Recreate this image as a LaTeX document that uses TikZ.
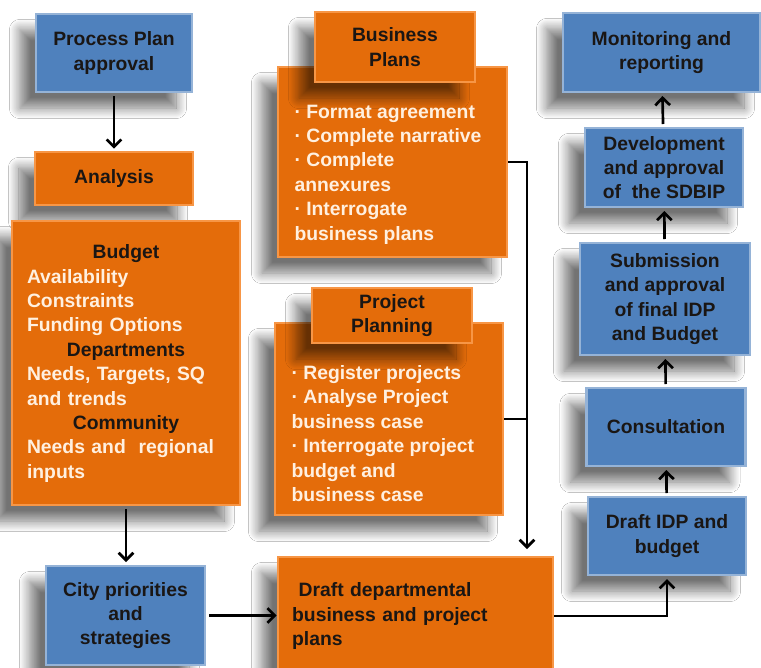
\documentclass[tikz,border=0pt]{standalone}
\usepackage{fontspec}
\setmainfont{Liberation Sans}
\usetikzlibrary{arrows.meta,shadows.blur}

\definecolor{boxblue}{RGB}{79,129,189}
\definecolor{edgeblue}{RGB}{149,179,215}
\definecolor{boxorange}{RGB}{228,108,10}
\definecolor{edgeorange}{RGB}{247,150,70}
\definecolor{darktxt}{RGB}{26,22,20}
\definecolor{lighttxt}{RGB}{255,240,224}

\newcommand{\boxfont}{\fontsize{14.5}{18.3}\selectfont\bfseries}

\tikzset{every picture/.style={line width=0.75pt}}
\tikzset{
  panel/.style={line width=2pt, inner sep=0pt, align=center, font=\boxfont, text=darktxt,
    blur shadow={shadow xshift=-12pt, shadow yshift=-12pt, shadow blur radius=8pt,
      shadow blur steps=16, shadow opacity=55}},
  bluebox/.style={panel, fill=boxblue, draw=edgeblue},
  orangebox/.style={panel, fill=boxorange, draw=edgeorange},
  bullets/.style={inner sep=0pt, align=left, anchor=west, text=lighttxt, font=\boxfont},
  conn/.style={line width=2pt},
  arr/.style={conn, -{Straight Barb[length=5.5pt,width=11pt]}},
}

\begin{document}
\begin{tikzpicture}[x=0.75pt,y=0.75pt,yscale=-1,xscale=1]
\fill[white] (0,0) rectangle (761,668);
\useasboundingbox (0,0) rectangle (761,668);

%Left column
\node[bluebox, minimum width=117pt, minimum height=58.5pt] (proc) at (114,53) {Process Plan\\approval};
\node[orangebox, minimum width=118.5pt, minimum height=39.75pt] (ana) at (114,178.5) {Analysis};
\node[orangebox, minimum width=171pt, minimum height=213pt] (budget) at (126,363) {};
\node[bullets, anchor=center, text width=148.5pt] (budgettxt) at (126,363.5) {%
{\centering\color{darktxt}Budget\par}
Availability\\Constraints\\Funding Options\par
{\centering\color{darktxt}Departments\par}
Needs, Targets, SQ\\and trends\par
{\centering\color{darktxt}Community\par}
Needs and~ regional\\inputs};
\node[bluebox, minimum width=119.25pt, minimum height=74.25pt] (city) at (125.5,615.5) {City priorities\\and\\strategies};

%Middle column
\node[orangebox, minimum width=171.75pt, minimum height=142.5pt] (bpbox) at (392.5,162) {};
\node[orangebox, minimum width=120pt, minimum height=52.5pt] (bptitle) at (395,47) {Business\\Plans};
\node[bullets] (bptxt) at (294,174.5) {· Format agreement\\· Complete narrative\\· Complete\\annexures\\· Interrogate\\business plans};

\node[orangebox, minimum width=171pt, minimum height=144pt] (ppbox) at (389,419) {};
\node[orangebox, minimum width=120pt, minimum height=41.25pt] (pptitle) at (392,315.5) {Project\\Planning};
\node[bullets] (pptxt) at (291,433.5) {· Register projects\\· Analyse Project\\business case\\· Interrogate project\\budget and\\business case};

\node[orangebox, minimum width=206.25pt, minimum height=88.5pt, align=left, text width=185pt, inner xsep=10.5pt] (ddp) at (415.5,616) {~Draft departmental\\business and project\\plans};

%Right column
\node[bluebox, minimum width=147.75pt, minimum height=59.25pt] (mon) at (661.5,52.5) {Monitoring and\\reporting};
\node[bluebox, minimum width=118.5pt, minimum height=59.25pt] (dev) at (664,167.5) {Development\\and approval\\of~ the SDBIP};
\node[bluebox, minimum width=127.5pt, minimum height=84pt] (sub) at (665,299) {Submission\\and approval\\of final IDP\\and Budget};
\node[bluebox, minimum width=119.25pt, minimum height=58.5pt] (cons) at (666,427) {Consultation};
\node[bluebox, minimum width=118.5pt, minimum height=58.5pt] (dib) at (667,536) {Draft IDP and\\budget};

%Connectors
\coordinate (jn) at (527,0);
\draw[arr, shorten <=2pt, shorten >=1.5pt] (proc) -- (ana);
\draw[arr, shorten <=2pt, shorten >=2pt] (budget.south) -- (budget.south |- city.north);
\draw[arr, shorten <=2pt] (city.east) -- (city.east -| ddp.west);
\draw[arr, shorten >=5pt] (bpbox.east) -| (jn |- ddp.north);
\draw[conn] (ppbox.east) -- (ppbox.east -| jn);
\draw[arr, shorten >=2pt] (ddp.east) -| (dib.south);
\draw[arr, shorten <=2pt, shorten >=2pt] (dib) -- (cons);
\draw[arr, shorten <=2pt, shorten >=2pt] (cons) -- (sub);
\draw[arr, shorten <=2pt, shorten >=2pt] (sub) -- (dev);
\draw[arr, shorten <=2pt, shorten >=2pt] (dev) -- (mon);

\end{tikzpicture}
\end{document}
